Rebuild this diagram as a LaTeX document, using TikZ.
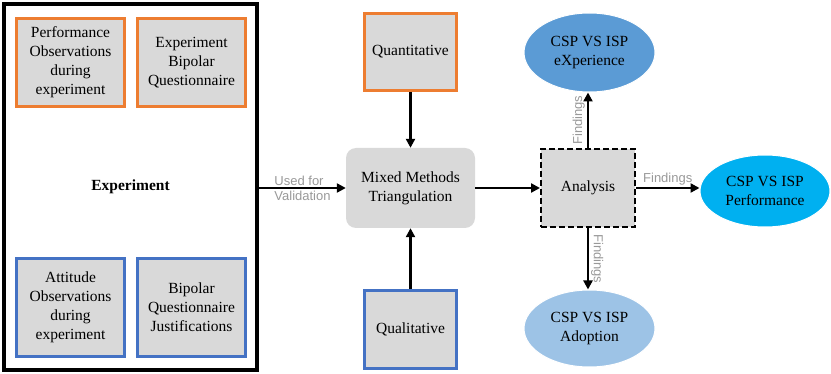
\documentclass[tikz,border=0pt]{standalone}
\usepackage{fontspec}
\setmainfont{Liberation Serif}
\newfontfamily\lblfont{Liberation Sans}
\usepackage{tikz}
\usetikzlibrary{arrows.meta,shapes.geometric}
\definecolor{boxorange}{HTML}{ED7D31}
\definecolor{boxblue}{HTML}{4472C4}
\definecolor{boxgray}{HTML}{D9D9D9}
\definecolor{lblgray}{HTML}{999999}
\definecolor{xpblue}{HTML}{5B9BD5}
\definecolor{perfblue}{HTML}{00B0F0}
\definecolor{adoptblue}{HTML}{9DC3E6}
\tikzset{
  txt/.style={font=\fontsize{15.5}{19}\selectfont,align=center},
  obsbox/.style={txt,rectangle,fill=boxgray,line width=3pt,minimum width=108pt},
  result/.style={txt,ellipse,draw=white,line width=1pt,minimum width=131pt},
  flow/.style={line width=2.5pt,-{Triangle[length=9pt,width=9pt]}},
  findlbl/.style={font=\lblfont\fontsize{13}{15}\selectfont,text=lblgray,inner sep=2pt}
}
\def\orangebox{\node[obsbox,draw=boxorange,minimum height=88pt]}
\def\bluebox{\node[obsbox,draw=boxblue,minimum height=98pt]}

\begin{document}
\begin{tikzpicture}[x=1pt,y=-1pt]
\useasboundingbox (0,0) rectangle (831,374);
% experiment block
\node[txt,draw,line width=4.5pt,minimum width=253pt,minimum height=366pt] (exp) at (130.5,187) {\textbf{Experiment}};
\orangebox (perfobs) at (70.5,62.5) {Performance\\Observations\\during\\experiment};
\orangebox (bipq) at (191.5,62.5) {Experiment\\Bipolar\\Questionnaire};
\bluebox (attobs) at (70.5,307.5) {Attitude\\Observations\\during\\experiment};
\bluebox (bipjust) at (191.5,307.5) {Bipolar\\Questionnaire\\Justifications};
% triangulation
\node[txt,fill=boxgray,rounded corners=10pt,minimum width=129pt,minimum height=80pt] (mixed) at (410.5,188) {Mixed Methods\\Triangulation};
\node[obsbox,draw=boxorange,minimum width=92pt,minimum height=77pt] (quant) at (410.5,52) {Quantitative};
\node[obsbox,draw=boxblue,minimum width=92pt,minimum height=78pt] (qual) at (410.5,329.5) {Qualitative};
\node[txt,fill=boxgray,draw,dash pattern=on 6pt off 3pt,line width=2pt,minimum width=94pt,minimum height=78pt] (analysis) at (588,188) {Analysis};
% results
\node[result,fill=xpblue,minimum height=79pt] (xp) at (589.5,52.5) {CSP VS ISP\\eXperience};
\node[result,fill=perfblue,minimum width=130pt,minimum height=72pt] (perf) at (765,191) {CSP VS ISP\\Performance};
\node[result,fill=adoptblue,minimum height=77pt] (adopt) at (589.5,328.5) {CSP VS ISP\\Adoption};
% arrows
\draw[flow] (exp.east |- mixed.west) -- node[findlbl,align=left] {Used for\\Validation} (mixed.west);
\draw[flow] (quant) -- (mixed);
\draw[flow] (qual) -- (mixed);
\draw[flow] (mixed) -- (analysis);
\draw[flow] (analysis.north) -- node[findlbl,anchor=south,rotate=90] {Findings} (analysis.north |- xp.south);
\draw[flow] (analysis.east) -- node[findlbl,above] {Findings} (analysis.east -| perf.west);
\draw[flow] (analysis.south) -- node[findlbl,anchor=south,rotate=-90] {Findings} (analysis.south |- adopt.north);
\end{tikzpicture}
\end{document}
